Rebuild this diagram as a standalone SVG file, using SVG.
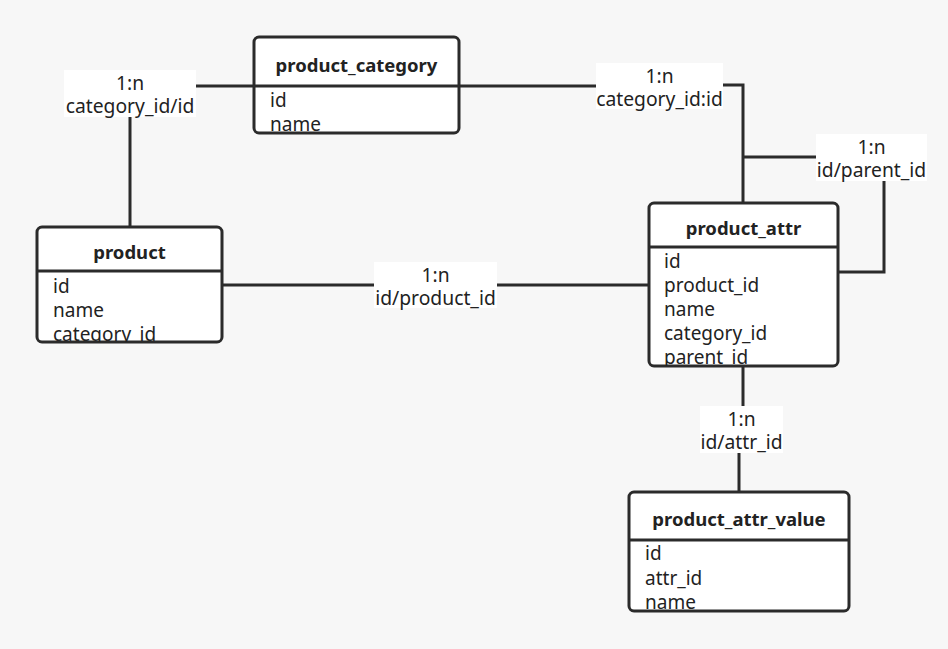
<svg xmlns="http://www.w3.org/2000/svg" width="948" height="649" viewBox="0 0 948 649">
<defs>
<style>
.box{fill:#fff;stroke:#2b2b2b;stroke-width:3}
.div{stroke:#2b2b2b;stroke-width:3}
.title{font-family:"Noto Sans","Liberation Sans",sans-serif;font-size:18.5px;font-weight:bold;fill:#222;text-anchor:middle}
.field{font-family:"Noto Sans","Liberation Sans",sans-serif;font-size:19px;fill:#222}
.lbl{font-family:"Noto Sans","Liberation Sans",sans-serif;font-size:19.3px;fill:#222;text-anchor:middle}
.lblbg{fill:#fff}
.conn{fill:none;stroke:#2b2b2b;stroke-width:3}
</style>
<clipPath id="c1"><rect x="254" y="37" width="205" height="96"/></clipPath>
<clipPath id="c2"><rect x="37" y="227" width="185" height="115"/></clipPath>
<clipPath id="c3"><rect x="649" y="203" width="189" height="163"/></clipPath>
<clipPath id="c4"><rect x="629" y="492" width="220" height="119"/></clipPath>
</defs>
<rect width="948" height="649" fill="#f7f7f7"/>
<g id="connectors">
<path class="conn" d="M196 86 H596"/>
<path class="conn" d="M130 117 V227"/>
<path class="conn" d="M222 285 H648"/>
<path class="conn" d="M723 85 H743 V203"/>
<path class="conn" d="M743 157 H816"/>
<path class="conn" d="M884 181 V272 H838"/>
<path class="conn" d="M743 367 V406"/>
<path class="conn" d="M739 453 V492"/>
</g>
<g id="product_category">
<rect class="box" x="254" y="37" width="205" height="96" rx="5"/>
<line class="div" x1="254" y1="86" x2="459" y2="86"/>
<text class="title" x="356.5" y="72">product_category</text>
<g clip-path="url(#c1)">
<text class="field" x="270" y="107">id</text>
<text class="field" x="270" y="131">name</text>
</g>
</g>
<g id="product">
<rect class="box" x="37" y="227" width="185" height="115" rx="5"/>
<line class="div" x1="37" y1="271" x2="222" y2="271"/>
<text class="title" x="129.5" y="259">product</text>
<g clip-path="url(#c2)">
<text class="field" x="53" y="293">id</text>
<text class="field" x="53" y="317">name</text>
<text class="field" x="53" y="341">category_id</text>
</g>
</g>
<g id="product_attr">
<rect class="box" x="649" y="203" width="189" height="163" rx="5"/>
<line class="div" x1="649" y1="247" x2="838" y2="247"/>
<text class="title" x="743.5" y="235">product_attr</text>
<g clip-path="url(#c3)">
<text class="field" x="664" y="268">id</text>
<text class="field" x="664" y="292">product_id</text>
<text class="field" x="664" y="316">name</text>
<text class="field" x="664" y="340">category_id</text>
<text class="field" x="664" y="364">parent_id</text>
</g>
</g>
<g id="product_attr_value">
<rect class="box" x="629" y="492" width="220" height="119" rx="5"/>
<line class="div" x1="629" y1="540" x2="849" y2="540"/>
<text class="title" x="739" y="526">product_attr_value</text>
<g clip-path="url(#c4)">
<text class="field" x="645" y="560">id</text>
<text class="field" x="645" y="585">attr_id</text>
<text class="field" x="645" y="609">name</text>
</g>
</g>
<g id="label_category_product">
<rect class="lblbg" x="64" y="70" width="132" height="47"/>
<text class="lbl" x="130" y="90">1:n</text>
<text class="lbl" x="130" y="113">category_id/id</text>
</g>
<g id="label_category_attr">
<rect class="lblbg" x="596" y="63" width="127" height="46"/>
<text class="lbl" x="659.5" y="83">1:n</text>
<text class="lbl" x="659.5" y="106">category_id:id</text>
</g>
<g id="label_parent">
<rect class="lblbg" x="816" y="134" width="111" height="47"/>
<text class="lbl" x="871.5" y="154">1:n</text>
<text class="lbl" x="871.5" y="177">id/parent_id</text>
</g>
<g id="label_product_attr">
<rect class="lblbg" x="374" y="262" width="123" height="46"/>
<text class="lbl" x="435.5" y="282">1:n</text>
<text class="lbl" x="435.5" y="305">id/product_id</text>
</g>
<g id="label_attr_value">
<rect class="lblbg" x="700" y="406" width="83" height="47"/>
<text class="lbl" x="741.5" y="426">1:n</text>
<text class="lbl" x="741.5" y="449">id/attr_id</text>
</g>
</svg>
